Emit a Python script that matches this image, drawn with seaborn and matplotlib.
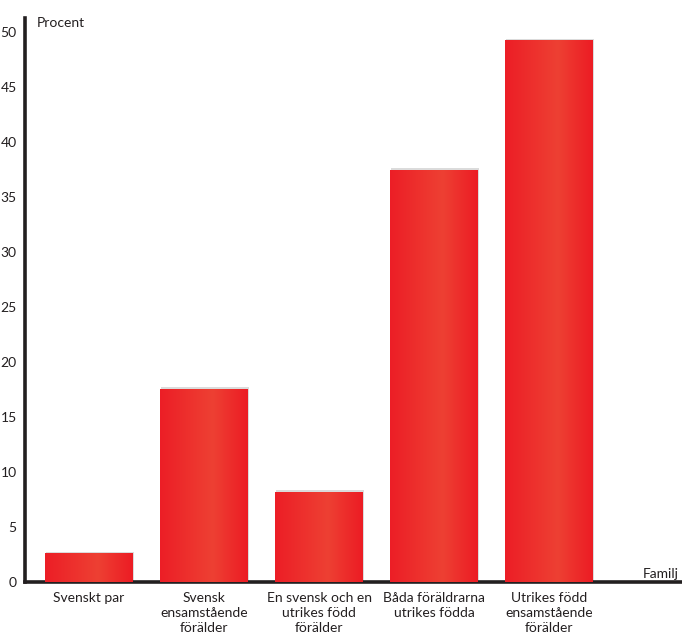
import numpy as np
import pandas as pd
import matplotlib
matplotlib.use("Agg")
import matplotlib.pyplot as plt
import seaborn as sns
from matplotlib import patheffects as pe
from matplotlib.colors import LinearSegmentedColormap

categories = [
    "Svenskt par",
    "Svensk\nensamstående\nförälder",
    "En svensk och en\nutrikes född\nförälder",
    "Båda föräldrarna\nutrikes födda",
    "Utrikes född\nensamstående\nförälder",
]
values = [2.6, 17.6, 8.2, 37.5, 49.3]
yticks = [0, 5, 10, 15, 20, 25, 30, 35, 40, 45, 50]

sns.set_theme(style="white")
plt.rcParams["font.family"] = ["Lato", "DejaVu Sans"]

df = pd.DataFrame({"cat": categories, "val": values})

fig = plt.figure(figsize=(6.82, 6.34), dpi=100)
ax = fig.add_axes([25 / 682, 52 / 634, 1 - 25 / 682, (582 - 18) / 634])

sns.barplot(data=df, x="cat", y="val", color="#ED1C24", width=0.765,
            saturation=1, ax=ax, zorder=2)

cmap = LinearSegmentedColormap.from_list(
    "bar", [(0.0, "#EC1E26"), (0.6, "#EE4033"), (1.0, "#EC1C24")])
grad = np.linspace(0, 1, 256).reshape(1, -1)
for p in list(ax.patches):
    p.set_edgecolor("none")
    p.set_path_effects([pe.SimplePatchShadow(offset=(1.0, 1.0),
                                             shadow_rgbFace="#999999",
                                             alpha=0.35), pe.Normal()])
    x, w, h = p.get_x(), p.get_width(), p.get_height()
    im = ax.imshow(grad, cmap=cmap, extent=[x, x + w, 0, h],
                   aspect="auto", zorder=3, interpolation="bilinear")
    im.set_clip_path(p)

ax.set_xlim(-0.557, 5.157)
ax.set_ylim(0, 51.3)
ax.set_yticks(yticks)
ax.set_yticklabels([str(t) for t in yticks])
ax.set_xticks(range(len(categories)))
ax.set_xticklabels(categories, linespacing=1.3)
ax.set_xlabel("")
ax.set_ylabel("")

for s in ["top", "right"]:
    ax.spines[s].set_visible(False)
for s in ["left", "bottom"]:
    ax.spines[s].set_linewidth(2.6)
    ax.spines[s].set_color("#231F20")

ax.tick_params(axis="both", direction="out", length=5, width=2.6,
               color="#231F20", labelsize=10, labelcolor="#231F20", pad=1)
ax.tick_params(axis="x", pad=2)

ax.text(0.0185, 1.002, "Procent", transform=ax.transAxes, fontsize=10,
        ha="left", va="top", color="#231F20")
ax.text(0.995, 0.004, "Familj", transform=ax.transAxes, fontsize=10,
        ha="right", va="bottom", color="#231F20")

fig.savefig("out.png", dpi=100)
